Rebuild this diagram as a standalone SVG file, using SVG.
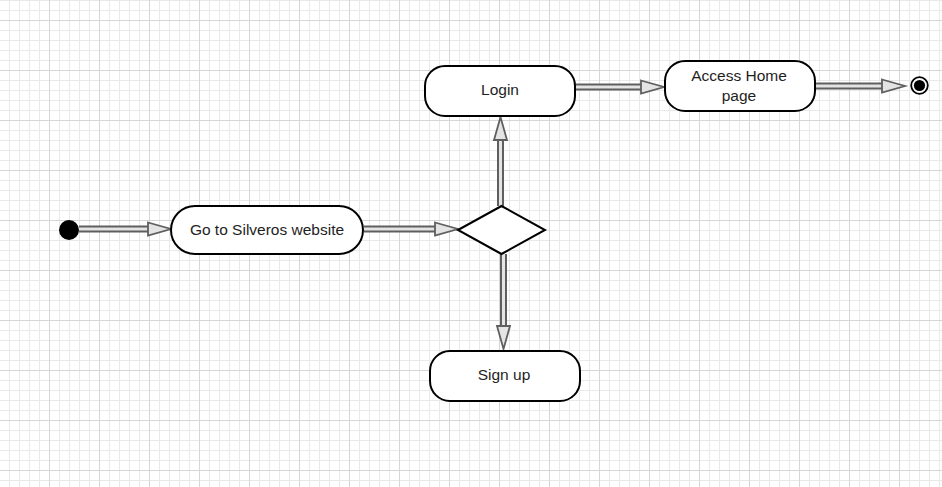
<svg xmlns="http://www.w3.org/2000/svg" width="942" height="487" viewBox="0 0 942 487">
<defs>
<pattern id="minor" width="10" height="10" patternUnits="userSpaceOnUse">
<path d="M9.5,0 V10 M0,0.5 H10" stroke="#e9e9e9" stroke-width="1" fill="none"/>
</pattern>
<pattern id="major" width="50" height="50" patternUnits="userSpaceOnUse">
<path d="M49.5,0 V50 M0,20.5 H50" stroke="#d6d6d6" stroke-width="1" fill="none"/>
</pattern>
<marker id="head" viewBox="-2 -9 28 18" markerWidth="28" markerHeight="18" refX="0" refY="0" orient="auto" markerUnits="userSpaceOnUse" overflow="visible">
<path d="M0,-6.5 L23,0 L0,6.5 Z" fill="#e4e4e4" stroke="#5f5f5f" stroke-width="1.8" stroke-linejoin="miter"/>
</marker>
<style>
.node{fill:#ffffff;stroke:#000000;stroke-width:2}
.lbl{font-family:"Liberation Sans",Arial,sans-serif;font-size:15.5px;fill:#1e1e1e;text-anchor:middle}
.outer{fill:none;stroke:#5f5f5f;stroke-width:7}
.inner{fill:none;stroke:#e4e4e4;stroke-width:3;marker-end:url(#head)}
</style>
</defs>
<rect width="942" height="487" fill="#ffffff"/>
<rect width="942" height="487" fill="url(#minor)"/>
<rect width="942" height="487" fill="url(#major)"/>

<g id="connectors">
<g id="e1"><path class="outer" d="M79,229 H148"/><path class="inner" d="M79,229 H148"/></g>
<g id="e2"><path class="outer" d="M364,229 H435"/><path class="inner" d="M364,229 H435"/></g>
<g id="e3"><path class="outer" d="M500.5,206 V140"/><path class="inner" d="M500.5,206 V140"/></g>
<g id="e4"><path class="outer" d="M575,87 H641"/><path class="inner" d="M575,87 H641"/></g>
<g id="e5"><path class="outer" d="M815,86 H882"/><path class="inner" d="M815,86 H882"/></g>
<g id="e6"><path class="outer" d="M503.5,254 V326"/><path class="inner" d="M503.5,254 V326"/></g>
</g>

<g id="start">
<circle cx="69" cy="230" r="10" fill="#000000"/>
</g>

<g id="goto">
<rect class="node" x="171" y="206" width="192" height="48" rx="24" ry="24"/>
<text class="lbl" x="267" y="235">Go to Silveros website</text>
</g>

<g id="decision">
<polygon class="node" points="458,230 501.5,206 545,230 501.5,254"/>
</g>

<g id="login">
<rect class="node" x="425" y="66" width="150" height="50" rx="20" ry="20"/>
<text class="lbl" x="500" y="95">Login</text>
</g>

<g id="access">
<rect class="node" x="665" y="61" width="150" height="50" rx="20" ry="20"/>
<text class="lbl" x="739" y="81">Access Home</text>
<text class="lbl" x="739" y="101">page</text>
</g>

<g id="signup">
<rect class="node" x="430" y="351" width="150" height="50" rx="20" ry="20"/>
<text class="lbl" x="504" y="380">Sign up</text>
</g>

<g id="end">
<circle cx="919.5" cy="85.5" r="8.3" fill="#ffffff" stroke="#000000" stroke-width="1.8"/>
<circle cx="919.5" cy="85.5" r="5.6" fill="#000000"/>
</g>
</svg>
